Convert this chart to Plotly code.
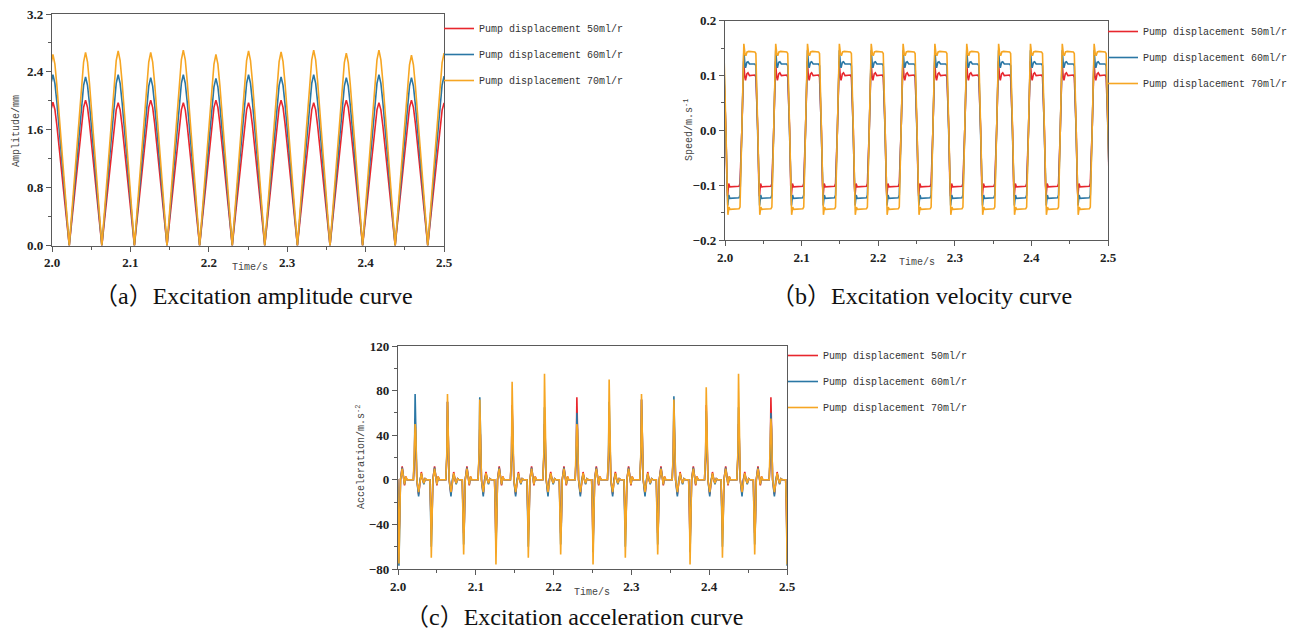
import plotly.graph_objects as go

W, H = 1301, 631

# ------------------------------------------------------------------
# Values
# ------------------------------------------------------------------
# start time of each excitation cycle (amplitude zero / velocity rising edge / acceleration positive spike)
CYCLE_START = [1.9804, 2.0220, 2.0636, 2.1051, 2.1467, 2.1883, 2.2299,
               2.2714, 2.3130, 2.3546, 2.3962, 2.4377, 2.4793]
CYCLE_END = 2.5209  # next zero after the last cycle (outside the axis)

SERIES = ["Pump displacement 50ml/r", "Pump displacement 60ml/r", "Pump displacement 70ml/r"]
COLORS = ["#E8262D", "#2A77A5", "#F6A623"]

# (a) amplitude: peak of each cycle, mm
AMP_PEAK_50 = [1.98, 2.01, 1.975, 2.01, 1.975, 2.01, 1.975, 2.01, 1.975, 2.01, 1.975, 2.01, 1.97]
AMP_PEAK_60 = [2.36, 2.33, 2.36, 2.32, 2.36, 2.31, 2.36, 2.33, 2.36, 2.32, 2.36, 2.32, 2.34]
AMP_PEAK_70 = [2.64, 2.67, 2.69, 2.67, 2.70, 2.64, 2.69, 2.675, 2.70, 2.66, 2.70, 2.63, 2.66]
# shape of one amplitude bump (time after cycle start, s  /  fraction of the peak)
AMP_OFFSET = [0.0, 0.0042, 0.0083, 0.0125, 0.0158, 0.0183, 0.0208, 0.0233, 0.0258, 0.0291, 0.0333, 0.0374]
AMP_SHAPE = [0.0, 0.22, 0.44, 0.66, 0.84, 0.95, 1.0, 0.95, 0.84, 0.66, 0.44, 0.22]

# (b) velocity, one cycle (time after cycle start, s  /  m/s)
VEL_OFFSET_50 = [0.0, 0.0013, 0.0024, 0.0038, 0.0048, 0.0065, 0.0080, 0.0100, 0.0170, 0.0183,
                 0.0208, 0.0222, 0.0230, 0.0244, 0.0258, 0.0380, 0.0392]
VEL_50 = [0.0, 0.095, 0.126, 0.098, 0.091, 0.103, 0.105, 0.100, 0.101, 0.097,
          0.0, -0.100, -0.120, -0.097, -0.103, -0.102, -0.097]
VEL_OFFSET_60 = [0.0, 0.0013, 0.0026, 0.0040, 0.0048, 0.0065, 0.0080, 0.0100, 0.0170, 0.0183,
                 0.0208, 0.0222, 0.0232, 0.0246, 0.0258, 0.0380, 0.0392]
VEL_60 = [0.0, 0.105, 0.146, 0.120, 0.114, 0.124, 0.125, 0.121, 0.121, 0.118,
          0.0, -0.110, -0.137, -0.118, -0.124, -0.123, -0.118]
VEL_OFFSET_70 = [0.0, 0.0013, 0.0026, 0.0040, 0.0052, 0.0068, 0.0090, 0.0170, 0.0183,
                 0.0208, 0.0222, 0.0234, 0.0248, 0.0262, 0.0380, 0.0392]
VEL_70 = [0.0, 0.110, 0.158, 0.140, 0.136, 0.143, 0.144, 0.143, 0.140,
          0.0, -0.120, -0.154, -0.140, -0.144, -0.143, -0.140]

# (c) acceleration: positive / negative spike of each cycle, m/s^2
ACC_POS_50 = [60, 55, 70, 46, 67, 50, 74, 46, 72, 60, 67, 50, 74]
ACC_POS_60 = [65, 77, 70, 74, 62, 65, 60, 70, 72, 75, 62, 65, 60]
ACC_POS_70 = [70, 50, 77, 72, 88, 95, 50, 90, 77, 72, 83, 95, 55]
ACC_NEG_50 = [-50, -45, -48, -55, -45, -48, -55, -45, -48, -55, -45, -48, -55]
ACC_NEG_60 = [-77, -60, -58, -65, -60, -58, -65, -60, -58, -65, -60, -58, -77]
ACC_NEG_70 = [-75, -70, -67, -76, -70, -67, -76, -70, -67, -76, -70, -67, -76]
# one cycle (time after cycle start, s / m/s^2; "P" and "N" are the spikes above)
ACC_OFFSET = [-0.0022, -0.0008, 0.0, 0.0008, 0.0022, 0.0045, 0.0062, 0.0080, 0.0098, 0.0112, 0.0130,
              0.0150, 0.0190, 0.0200, 0.0208, 0.0216, 0.0228, 0.0250, 0.0266, 0.0280, 0.0296, 0.0312]
ACC_SHAPE_50 = [0, 20, "P", 40, 0, -13, 0, 7, 0, -3, 1, 0, 0, -20, "N", -38, 0, 12, 0, -5, 3, 0]
ACC_SHAPE_60 = [0, 22, "P", 45, 0, -15, 0, 5, 0, -4, 1, 0, 0, -22, "N", -40, 0, 11, 0, -4, 2, 0]
ACC_SHAPE_70 = [0, 25, "P", 45, 0, -11, 0, 6, 0, -3, 1, 0, 0, -25, "N", -40, 0, 10, 0, -4, 3, 0]

X_TICKS = [2.0, 2.1, 2.2, 2.3, 2.4, 2.5]
AMP_TICKS = [0.0, 0.8, 1.6, 2.4, 3.2]
VEL_TICKS = [-0.2, -0.1, 0.0, 0.1, 0.2]
ACC_TICKS = [-80, -40, 0, 40, 80, 120]


# ------------------------------------------------------------------
# assemble the curves from the cycles read above
# ------------------------------------------------------------------
def amp_curve(peaks):
    xs, ys = [], []
    for k, s in enumerate(CYCLE_START):
        for dt, f in zip(AMP_OFFSET, AMP_SHAPE):
            xs.append(s + dt)
            ys.append(f * peaks[k])
    xs.append(CYCLE_END)
    ys.append(0.0)
    return xs, ys


def vel_curve(offsets, vals):
    xs, ys = [], []
    for s in CYCLE_START:
        for dt, v in zip(offsets, vals):
            xs.append(s + dt)
            ys.append(v)
    xs.append(CYCLE_END)
    ys.append(0.0)
    return xs, ys


def acc_curve(shape, pos, neg):
    xs, ys = [], []
    for k, s in enumerate(CYCLE_START):
        for dt, v in zip(ACC_OFFSET, shape):
            xs.append(s + dt)
            ys.append(pos[k] if v == "P" else neg[k] if v == "N" else v)
    return xs, ys


AMP = [amp_curve(AMP_PEAK_50), amp_curve(AMP_PEAK_60), amp_curve(AMP_PEAK_70)]
VEL = [vel_curve(VEL_OFFSET_50, VEL_50), vel_curve(VEL_OFFSET_60, VEL_60), vel_curve(VEL_OFFSET_70, VEL_70)]
ACC = [acc_curve(ACC_SHAPE_50, ACC_POS_50, ACC_NEG_50),
       acc_curve(ACC_SHAPE_60, ACC_POS_60, ACC_NEG_60),
       acc_curve(ACC_SHAPE_70, ACC_POS_70, ACC_NEG_70)]

fig = go.Figure()

panels = [("x", "y", "legend", AMP, "a"), ("x2", "y2", "legend2", VEL, "b"), ("x3", "y3", "legend3", ACC, "c")]
for xa, ya, lg, data, tag in panels:
    for i in range(3):
        fig.add_trace(go.Scatter(
            x=data[i][0], y=data[i][1], mode="lines", name=SERIES[i],
            line=dict(color=COLORS[i], width=1.6),
            xaxis=xa, yaxis=ya, legend=lg, legendgroup=tag + str(i),
        ))


def px_x(p):
    return p / W


def px_y(p):
    return 1 - p / H


TICKFONT = dict(family="Liberation Serif", size=13, color="#222", weight="bold")
AXLINE = dict(showline=True, linecolor="#5a5a5a", linewidth=1.3, mirror=True,
              ticks="outside", ticklen=5, tickwidth=1.2, tickcolor="#5a5a5a",
              showgrid=False, zeroline=False, tickfont=TICKFONT, automargin=False)


def xaxis(dom, anchor):
    return dict(domain=dom, anchor=anchor, range=[2.0, 2.5], tickvals=X_TICKS, tickformat=".1f",
                minor=dict(dtick=0.05, ticks="outside", ticklen=3, tickcolor="#5a5a5a"), **AXLINE)


def yaxis(dom, anchor, rng, tv, fmt, mdt):
    return dict(domain=dom, anchor=anchor, range=rng, tickvals=tv, tickformat=fmt,
                minor=dict(dtick=mdt, ticks="outside", ticklen=3, tickcolor="#5a5a5a"), **AXLINE)


LEGFONT = dict(family="Liberation Mono", size=10, color="#333")


def legend(xp, yp):
    return dict(x=px_x(xp), y=px_y(yp), xanchor="left", yanchor="top", bgcolor="rgba(0,0,0,0)",
                font=LEGFONT, tracegroupgap=7, borderwidth=0)


fig.update_layout(
    width=W, height=H, margin=dict(l=0, r=0, t=0, b=0, autoexpand=False),
    paper_bgcolor="white", plot_bgcolor="white", showlegend=True,
    xaxis=xaxis([px_x(52), px_x(444)], "y"),
    yaxis=yaxis([px_y(245.6), px_y(14)], "x", [0, 3.2], AMP_TICKS, ".1f", 0.4),
    xaxis2=xaxis([px_x(725), px_x(1108)], "y2"),
    yaxis2=yaxis([px_y(240), px_y(20.7)], "x2", [-0.2, 0.2], VEL_TICKS, ".1f", 0.05),
    xaxis3=xaxis([px_x(398), px_x(787)], "y3"),
    yaxis3=yaxis([px_y(569), px_y(346)], "x3", [-80, 120], ACC_TICKS, "d", 20),
    legend=legend(439, 14),
    legend2=legend(1103, 17),
    legend3=legend(783, 341),
)

TITLEFONT = dict(family="Liberation Mono", size=10, color="#444")
CAPFONT = dict(family="Liberation Serif, Noto Sans CJK SC", size=24, color="#111")


def note(text, xp, yp, font, angle=0):
    fig.add_annotation(text=text, x=px_x(xp), y=px_y(yp), xref="paper", yref="paper",
                       showarrow=False, font=font, textangle=angle, xanchor="center", yanchor="middle")


note("Time/s", 250, 268, TITLEFONT)
note("Time/s", 917, 262, TITLEFONT)
note("Time/s", 592, 592, TITLEFONT)
note("Amplitude/mm", 16, 131, TITLEFONT, -90)
note("Speed/m.s<sup>-1</sup>", 688, 130, TITLEFONT, -90)
note("Acceleration/m.s<sup>-2</sup>", 361, 457, TITLEFONT, -90)
note("（a）Excitation amplitude curve", 253, 296, CAPFONT)
note("（b）Excitation velocity curve", 921, 296, CAPFONT)
note("（c）Excitation acceleration curve", 574, 617, CAPFONT)

fig.write_html("out.html", config={"displayModeBar": False},
               post_script="document.body.style.margin='0px';")
